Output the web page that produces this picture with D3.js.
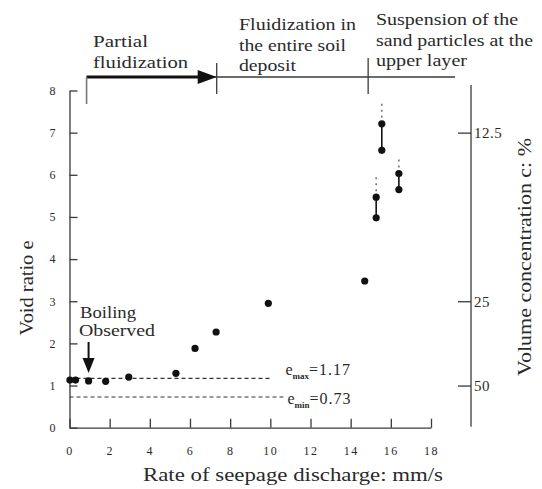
<!DOCTYPE html>
<html>
<head>
<meta charset="utf-8">
<script src="https://cdn.jsdelivr.net/npm/d3@7"></script>
<style>
  html, body { margin: 0; padding: 0; background: #fff; }
  svg { display: block; }
  svg text { fill: #2a2a2a; }
</style>
</head>
<body>
<svg id="chart" width="542" height="489"></svg>
<script>
// ---- data ----
const xTicks = [0, 2, 4, 6, 8, 10, 12, 14, 16, 18];
const yTicks = [0, 1, 2, 3, 4, 5, 6, 7, 8];
const cTicks = [12.5, 25, 50];               // volume concentration (%) on right axis
const pointX = [0.02, 0.3, 0.95, 1.8, 2.95, 5.3, 6.25, 7.3, 9.9, 14.7, 15.27, 15.27, 15.55, 15.55, 16.4, 16.4];
const pointE = [1.13, 1.13, 1.11, 1.1, 1.2, 1.29, 1.88, 2.27, 2.95, 3.48, 4.98, 5.47, 6.58, 7.21, 5.65, 6.03];
const rangeX = [15.27, 15.55, 16.4];
const rangeLow = [4.98, 6.58, 5.65];
const rangeHigh = [5.47, 7.21, 6.03];
const rangeDotTop = [5.95, 7.7, 6.45];
const eMax = 1.17, eMin = 0.73;
const phaseBounds = [0.85, 7.33, 14.87, 19.2];
const phaseLabels = [["Partial", "fluidization"], ["Fluidization in", "the entire soil", "deposit"], ["Suspension of the", "sand particles at the", "upper layer"]];
const boilingX = 0.95;

const FONT = '"Liberation Serif", "Times New Roman", serif';
const svg = d3.select("#chart");
const x = d3.scaleLinear().domain([0, 18]).range([69.5, 431]);
const y = d3.scaleLinear().domain([0, 8]).range([427.7, 90.5]);
const axisColor = "#3a3a3a";

function txt(px, py, s, size, len, anchor) {
  const t = svg.append("text").attr("x", px).attr("y", py).style("font-size", size + "px").style("font-family", FONT).text(s);
  if (len) t.attr("textLength", len).attr("lengthAdjust", "spacingAndGlyphs");
  if (anchor) t.attr("text-anchor", anchor);
  return t;
}

// left axis
const gL = svg.append("g").attr("transform", `translate(${x(0)},0)`)
  .call(d3.axisLeft(y).tickValues(yTicks).tickSizeInner(-8).tickSizeOuter(0).tickPadding(14).tickFormat(d3.format("d")));
gL.selectAll("text").style("font-size", "12px").style("font-family", FONT).attr("fill", "#333");

// bottom axis
const gB = svg.append("g").attr("transform", `translate(0,${y(0)})`)
  .call(d3.axisBottom(x).tickValues(xTicks).tickSizeInner(-9).tickSizeOuter(0).tickPadding(19).tickFormat(d3.format("d")));
gB.selectAll("text").style("font-size", "12px").style("letter-spacing", "1.5px").style("font-family", FONT).attr("fill", "#333");

// right axis (volume concentration) — e = 100/c - 1
const rx = 471;
const gR = svg.append("g").attr("transform", `translate(${rx},0)`)
  .call(d3.axisRight(d3.scaleLinear().domain(y.domain()).range(y.range()))
    .tickValues(cTicks.map(c => 100 / c - 1)).tickSizeInner(-13).tickSizeOuter(0).tickPadding(3)
    .tickFormat((d, i) => String(cTicks[i])));
gR.select(".domain").remove();
gR.selectAll("text").style("font-size", "15px").style("letter-spacing", "0.5px").style("font-family", FONT).attr("fill", "#333");
svg.append("line").attr("x1", rx).attr("x2", rx).attr("y1", y(8.13)).attr("y2", y(0.02))
  .attr("stroke", axisColor).attr("stroke-width", 1.3);

svg.selectAll(".domain").attr("stroke", axisColor).attr("stroke-width", 1.3);
svg.selectAll(".tick line").attr("stroke", axisColor).attr("stroke-width", 1.3);

// axis titles
txt(143, 481, "Rate of seepage discharge: mm/s", 18, 300);
svg.append("text").attr("transform", `translate(33,288) rotate(-90)`).attr("text-anchor", "middle")
  .style("font-size", "18px").style("font-family", FONT).attr("textLength", 95).attr("lengthAdjust", "spacingAndGlyphs").text("Void ratio e");
svg.append("text").attr("transform", `translate(531,257) rotate(-90)`).attr("text-anchor", "middle")
  .style("font-size", "18px").style("font-family", FONT).attr("textLength", 238).attr("lengthAdjust", "spacingAndGlyphs").text("Volume concentration c: %");

// dashed reference lines
svg.append("line").attr("x1", x(0)).attr("x2", x(10.05)).attr("y1", y(eMax)).attr("y2", y(eMax))
  .attr("stroke", "#333").attr("stroke-width", 1.1).attr("stroke-dasharray", "4,3");
svg.append("line").attr("x1", x(0)).attr("x2", x(10.65)).attr("y1", y(eMin)).attr("y2", y(eMin))
  .attr("stroke", "#333").attr("stroke-width", 1.1).attr("stroke-dasharray", "4,3");

function eLabel(px, py, sub, val) {
  const t = svg.append("text").attr("x", px).attr("y", py).style("font-size", "16px").style("font-family", FONT);
  t.append("tspan").text("e");
  t.append("tspan").attr("dy", 4).style("font-size", "9px").style("font-weight", "bold").text(sub);
  t.append("tspan").attr("dy", -4).style("letter-spacing", "1px").text("=" + val);
}
eLabel(x(10.75), y(eMax) - 3, "max", "1.17");
eLabel(x(10.85), y(eMin) + 7, "min", "0.73");

// range bars (solid) and dotted extensions
rangeX.forEach((rxv, i) => {
  svg.append("line").attr("x1", x(rxv)).attr("x2", x(rxv)).attr("y1", y(rangeLow[i])).attr("y2", y(rangeHigh[i]))
    .attr("stroke", "#111").attr("stroke-width", 1.6);
  svg.append("line").attr("x1", x(rxv)).attr("x2", x(rxv)).attr("y1", y(rangeHigh[i])).attr("y2", y(rangeDotTop[i]))
    .attr("stroke", "#777").attr("stroke-width", 1.6).attr("stroke-dasharray", "2,4");
});

// points
svg.append("g").selectAll("circle").data(pointX.map((d, i) => [d, pointE[i]])).join("circle")
  .attr("cx", d => x(d[0])).attr("cy", d => y(d[1])).attr("r", 3.6).attr("fill", "#111");

// boiling annotation
txt(80, 318, "Boiling", 16, 56);
txt(79, 336, "Observed", 16, 76);
svg.append("line").attr("x1", x(boilingX)).attr("x2", x(boilingX)).attr("y1", 342).attr("y2", 360)
  .attr("stroke", "#111").attr("stroke-width", 2);
svg.append("path").attr("d", `M${x(boilingX) - 6},358 L${x(boilingX) + 6},358 L${x(boilingX)},373 Z`).attr("fill", "#111");

// top phase bracket
const topY = 77;
svg.append("line").attr("x1", x(phaseBounds[0])).attr("x2", x(phaseBounds[3])).attr("y1", topY).attr("y2", topY)
  .attr("stroke", axisColor).attr("stroke-width", 1.4);
svg.append("line").attr("x1", x(phaseBounds[0])).attr("x2", x(phaseBounds[1]) - 18).attr("y1", topY).attr("y2", topY)
  .attr("stroke", "#111").attr("stroke-width", 3);
svg.append("path").attr("d", `M${x(phaseBounds[1]) - 19},${topY - 7} L${x(phaseBounds[1])},${topY} L${x(phaseBounds[1]) - 19},${topY + 7} Z`).attr("fill", "#111");
svg.append("line").attr("x1", x(phaseBounds[0])).attr("x2", x(phaseBounds[0])).attr("y1", topY).attr("y2", 104)
  .attr("stroke", "#777").attr("stroke-width", 1.6);
svg.append("line").attr("x1", x(phaseBounds[1])).attr("x2", x(phaseBounds[1])).attr("y1", 63).attr("y2", 94)
  .attr("stroke", axisColor).attr("stroke-width", 1.3);
svg.append("line").attr("x1", x(phaseBounds[2])).attr("x2", x(phaseBounds[2])).attr("y1", 58).attr("y2", 94)
  .attr("stroke", axisColor).attr("stroke-width", 1.3);

const labelPos = [[93, 47], [239, 30], [376, 25]];
const labelLens = [[55, 95], [117, 107, 57], [142, 157, 91]];
phaseLabels.forEach((lines, i) => {
  lines.forEach((s, j) => {
    txt(labelPos[i][0], labelPos[i][1] + j * 20.5, s, 16, labelLens[i][j]);
  });
});
</script>
</body>
</html>
